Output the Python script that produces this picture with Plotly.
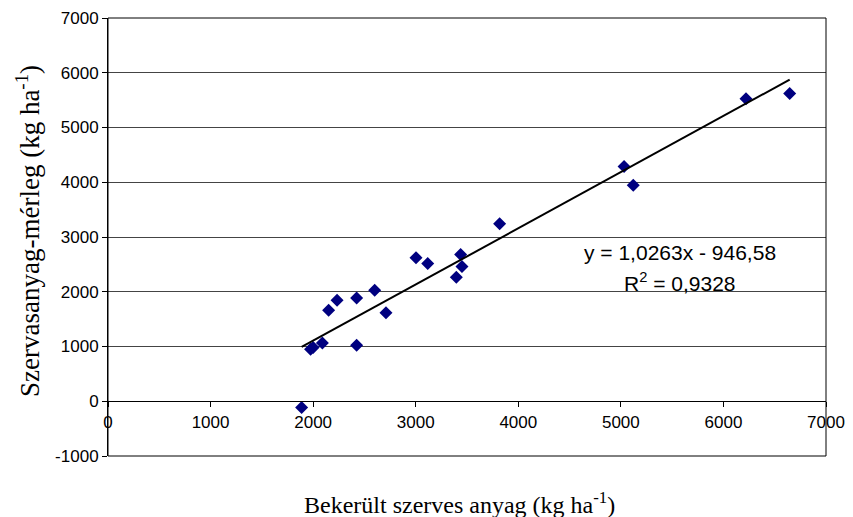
import numpy as np
import plotly.graph_objects as go

# Data
bekerult = [1888, 1975, 2000, 2090, 2151, 2233, 2424, 2424, 2600, 2710,
            3003, 3117, 3396, 3438, 3451, 3818, 5031, 5121, 6220, 6646]
merleg = [-115, 950, 980, 1065, 1660, 1843, 1886, 1022, 2026, 1618,
          2622, 2518, 2263, 2682, 2463, 3242, 4288, 3947, 5524, 5620]

slope = 1.0263
intercept = -946.58
r_squared = 0.9328

x_tick_vals = [0, 1000, 2000, 3000, 4000, 5000, 6000, 7000]
x_tick_labels = ["0", "1000", "2000", "3000", "4000", "5000", "6000", "7000"]
y_tick_vals = [-1000, 0, 1000, 2000, 3000, 4000, 5000, 6000, 7000]
y_tick_labels = ["-1000", "0", "1000", "2000", "3000", "4000", "5000", "6000", "7000"]

x_range = [0, 7000]
y_range = [-1000, 7000]

trend_x = np.array([min(bekerult), max(bekerult)])
trend_y = slope * trend_x + intercept

fig = go.Figure()
fig.add_trace(go.Scatter(
    x=bekerult, y=merleg, mode="markers",
    marker=dict(symbol="diamond", size=10, color="#000080"),
    showlegend=False, cliponaxis=False,
))
fig.add_trace(go.Scatter(
    x=trend_x, y=trend_y, mode="lines",
    line=dict(color="black", width=2),
    showlegend=False,
))

tick_font = dict(family="Liberation Sans, Arial, sans-serif", size=17, color="black")
x_pos = (0 - y_range[0]) / (y_range[1] - y_range[0])

# the page body adds an 8px offset, so the figure is 8px smaller on each axis
fig.update_layout(
    width=845, height=509,
    margin=dict(l=100, r=27, t=10, b=61, autoexpand=False),
    paper_bgcolor="white", plot_bgcolor="white",
    xaxis=dict(
        range=x_range, tickvals=x_tick_vals, ticktext=x_tick_labels,
        anchor="free", position=x_pos, automargin=False,
        showline=True, linecolor="black", linewidth=1,
        ticks="outside", ticklen=5, tickcolor="black",
        showgrid=False, zeroline=False, tickfont=tick_font,
    ),
    yaxis=dict(
        range=y_range, tickvals=y_tick_vals, ticktext=y_tick_labels,
        automargin=False,
        showline=True, linecolor="black", linewidth=1,
        ticks="outside", ticklen=5, tickcolor="black",
        showgrid=True, gridcolor="#444444", gridwidth=1,
        zeroline=False, tickfont=tick_font,
    ),
    shapes=[dict(type="rect", xref="paper", yref="paper", x0=0, y0=0, x1=1, y1=1,
                 line=dict(color="black", width=1), layer="above")],
    annotations=[
        dict(text="Bekerült szerves anyag (kg ha<sup>-1</sup>)",
             xref="paper", yref="paper", x=(459 - 108) / 718, y=(456 - 503) / 438,
             showarrow=False, xanchor="center", yanchor="middle",
             font=dict(family="Liberation Serif, Times New Roman, serif", size=24, color="black")),
        dict(text="Szervasanyag-mérleg (kg ha<sup>-1</sup>)",
             xref="paper", yref="paper", x=(28 - 108) / 718, y=(456 - 231) / 438,
             showarrow=False, xanchor="center", yanchor="middle", textangle=-90,
             font=dict(family="Liberation Serif, Times New Roman, serif", size=27, color="black")),
        dict(text=f"y = {str(slope).replace('.', ',')}x - {str(abs(intercept)).replace('.', ',')}",
             x=5577, y=2710, xref="x", yref="y", showarrow=False,
             xanchor="center", yanchor="middle",
             font=dict(family="Liberation Sans, Arial, sans-serif", size=21, color="black")),
        dict(text=f"R<sup>2</sup> = {str(r_squared).replace('.', ',')}",
             x=5577, y=2170, xref="x", yref="y", showarrow=False,
             xanchor="center", yanchor="middle",
             font=dict(family="Liberation Sans, Arial, sans-serif", size=21, color="black")),
    ],
)

fig.write_html("out.html")
